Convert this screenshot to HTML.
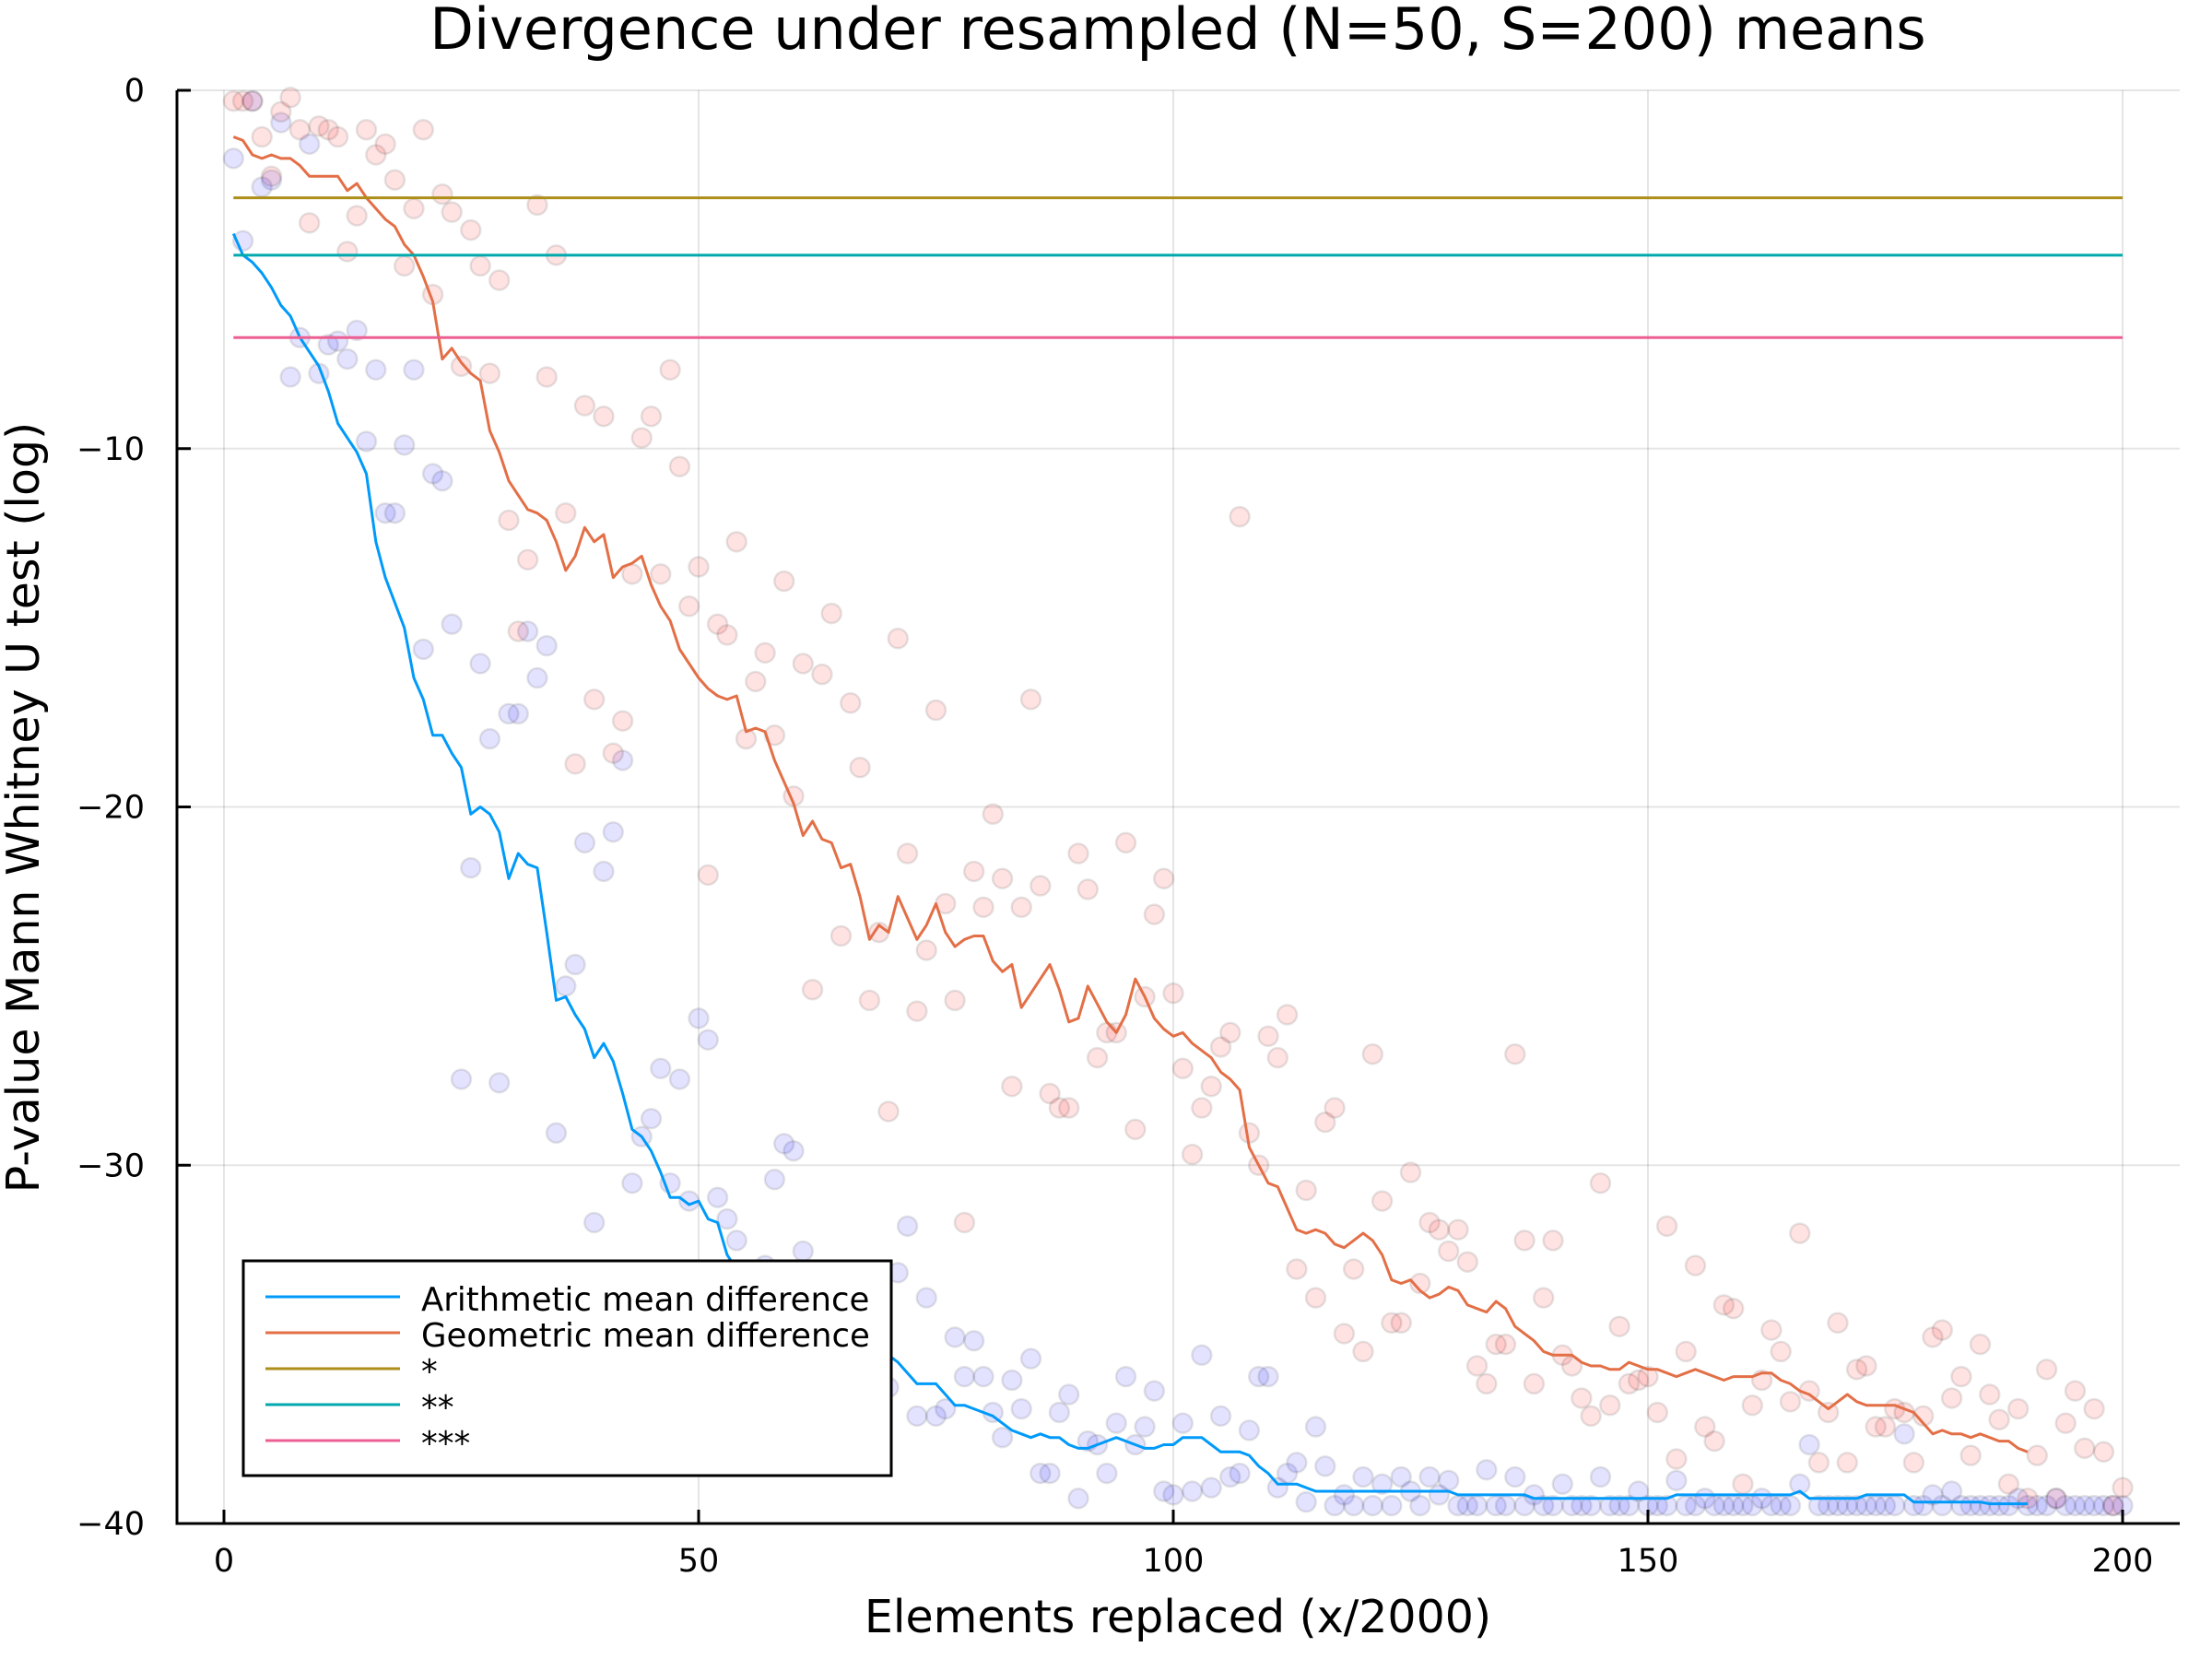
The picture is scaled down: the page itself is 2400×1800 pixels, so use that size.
<!DOCTYPE html>
<html><head><meta charset="utf-8"><style>
html,body{margin:0;padding:0;background:#fff;}
svg{display:block;font-family:"DejaVu Sans","Liberation Sans",sans-serif;}
</style></head><body>
<svg id="chart" width="2400" height="1800" viewBox="0 0 2400 1800" xmlns="http://www.w3.org/2000/svg">
<rect width="2400" height="1800" fill="#fff"/>
<text x="1278" y="53" font-size="62" text-anchor="middle">Divergence under resampled (N=50, S=200) means</text>
<text x="1278" y="1771" font-size="49" text-anchor="middle">Elements replaced (x/2000)</text>
<text transform="translate(42,876) rotate(-90)" font-size="49" text-anchor="middle">P-value Mann Whitney U test (log)</text>
<g id="grid"></g>
<g id="marks"></g>
<g id="axes"></g>
<g id="legend"></g>
</svg>
<script>
const xTicks = [0, 50, 100, 150, 200];
const yTicks = [0, -10, -20, -30, -40];
const yTickLabels = ["0", "\u221210", "\u221220", "\u221230", "\u221240"];
const thresholds = [-3.0, -4.6, -6.9];
const thresholdNames = ["*", "**", "***"];
const arithPoints = [-1.9,-4.2,-0.3,-2.7,-2.5,-0.9,-8.0,-6.9,-1.5,-7.9,-7.1,-7.0,-7.5,-6.7,-9.8,-7.8,-11.8,-11.8,-9.9,-7.8,
-15.6,-10.7,-10.9,-14.9,-27.6,-21.7,-16.0,-18.1,-27.7,-17.4,-17.4,-15.1,-16.4,-15.5,-29.1,-25.0,-24.4,-21.0,-31.6,-21.8,
-20.7,-18.7,-30.5,-29.2,-28.7,-27.3,-30.5,-27.6,-31.0,-25.9,-26.5,-30.9,-31.5,-32.1,-33.0,-33.5,-32.8,-30.4,-29.4,-29.6,
-32.4,-34.0,-33.5,-35.0,-34.2,-35.5,-36.0,-34.8,-35.3,-36.2,-33.0,-31.7,-37.0,-33.7,-37.0,-36.8,-34.8,-35.9,-34.9,-35.9,
-36.9,-37.6,-36.0,-36.8,-35.4,-38.6,-38.6,-36.9,-36.4,-39.3,-37.7,-37.8,-38.6,-37.2,-35.9,-37.8,-37.3,-36.3,-39.1,-39.2,
-37.2,-39.1,-35.3,-39.0,-37.0,-38.7,-38.6,-37.4,-35.9,-35.9,-39.0,-38.6,-38.3,-39.4,-37.3,-38.4,-39.5,-39.2,-39.5,-38.7,
-39.5,-38.9,-39.5,-38.7,-39.1,-39.5,-38.7,-39.2,-38.8,-39.5,-39.5,-39.5,-38.5,-39.5,-39.5,-38.7,-39.5,-39.2,-39.5,-39.5,
-38.9,-39.5,-39.5,-39.5,-38.7,-39.5,-39.5,-39.5,-39.1,-39.5,-39.5,-39.5,-38.8,-39.5,-39.5,-39.3,-39.5,-39.5,-39.5,-39.5,
-39.5,-39.3,-39.5,-39.5,-39.5,-38.9,-37.8,-39.5,-39.5,-39.5,-39.5,-39.5,-39.5,-39.5,-39.5,-39.5,-37.5,-39.5,-39.5,-39.2,
-39.5,-39.1,-39.5,-39.5,-39.5,-39.5,-39.5,-39.5,-39.3,-39.5,-39.5,-39.5,-39.3,-39.5,-39.5,-39.5,-39.5,-39.5,-39.5,-39.5];
const geomPoints = [-0.3,-0.3,-0.3,-1.3,-2.4,-0.6,-0.2,-1.1,-3.7,-1.0,-1.1,-1.3,-4.5,-3.5,-1.1,-1.8,-1.5,-2.5,-4.9,-3.3,
-1.1,-5.7,-2.9,-3.4,-7.7,-3.9,-4.9,-7.9,-5.3,-12.0,-15.1,-13.1,-3.2,-8.0,-4.6,-11.8,-18.8,-8.8,-17.0,-9.1,
-18.5,-17.6,-13.5,-9.7,-9.1,-13.5,-7.8,-10.5,-14.4,-13.3,-21.9,-14.9,-15.2,-12.6,-18.1,-16.5,-15.7,-18.0,-13.7,-19.7,
-16.0,-25.1,-16.3,-14.6,-23.6,-17.1,-18.9,-25.4,-23.5,-28.5,-15.3,-21.3,-25.7,-24.0,-17.3,-22.7,-25.4,-31.6,-21.8,-22.8,
-20.2,-22.0,-27.8,-22.8,-17.0,-22.2,-28.0,-28.4,-28.4,-21.3,-22.3,-27.0,-26.3,-26.3,-21.0,-29.0,-25.3,-23.0,-22.0,-25.2,
-27.3,-29.7,-28.4,-27.8,-26.7,-26.3,-11.9,-29.1,-30.0,-26.4,-27.0,-25.8,-32.9,-30.7,-33.7,-28.8,-28.4,-34.7,-32.9,-35.2,
-26.9,-31.0,-34.4,-34.4,-30.2,-33.3,-31.6,-31.8,-32.4,-31.8,-32.7,-35.6,-36.1,-35.0,-35.0,-26.9,-32.1,-36.1,-33.7,-32.1,
-35.3,-35.6,-36.5,-37.0,-30.5,-36.7,-34.5,-36.1,-36.0,-35.9,-36.9,-31.7,-38.2,-35.2,-32.8,-37.3,-37.7,-33.9,-34.0,-38.9,
-36.7,-36.0,-34.6,-35.2,-36.6,-31.9,-36.3,-38.3,-36.9,-34.4,-38.3,-35.7,-35.6,-37.3,-37.3,-36.8,-36.9,-38.3,-37.0,-34.8,
-34.6,-36.5,-35.9,-38.1,-35.0,-36.4,-37.1,-38.9,-36.8,-39.3,-38.1,-35.7,-39.3,-37.2,-36.3,-37.9,-36.8,-38.0,-39.5,-39.0];
const arithLine = [-4.0,-4.6,-4.8,-5.1,-5.5,-6.0,-6.3,-6.9,-7.3,-7.7,-8.4,-9.3,-9.7,-10.1,-10.7,-12.6,-13.6,-14.3,-15.0,-16.4,
-17.0,-18.0,-18.0,-18.5,-18.9,-20.2,-20.0,-20.2,-20.7,-22.0,-21.3,-21.6,-21.7,-23.5,-25.4,-25.3,-25.8,-26.2,-27.0,-26.6,
-27.1,-28.0,-29.0,-29.2,-29.6,-30.2,-30.9,-30.9,-31.1,-31.0,-31.5,-31.6,-32.5,-32.9,-33.2,-33.4,-33.6,-33.8,-34.0,-34.1,
-34.3,-34.4,-34.5,-34.7,-34.8,-34.9,-35.0,-35.1,-35.2,-35.3,-35.5,-35.8,-36.1,-36.1,-36.1,-36.4,-36.7,-36.7,-36.8,-36.9,
-37.0,-37.2,-37.4,-37.5,-37.6,-37.5,-37.6,-37.6,-37.8,-37.9,-37.9,-37.8,-37.7,-37.6,-37.7,-37.8,-37.9,-37.9,-37.8,-37.8,
-37.6,-37.6,-37.6,-37.8,-38.0,-38.0,-38.0,-38.1,-38.4,-38.6,-38.9,-38.9,-38.9,-39.0,-39.1,-39.1,-39.1,-39.1,-39.1,-39.1,
-39.1,-39.1,-39.1,-39.1,-39.1,-39.1,-39.1,-39.1,-39.1,-39.2,-39.2,-39.2,-39.2,-39.2,-39.2,-39.2,-39.2,-39.3,-39.3,-39.3,
-39.3,-39.3,-39.3,-39.3,-39.3,-39.3,-39.3,-39.3,-39.3,-39.3,-39.3,-39.3,-39.2,-39.2,-39.2,-39.2,-39.2,-39.2,-39.2,-39.2,
-39.2,-39.2,-39.2,-39.2,-39.2,-39.1,-39.3,-39.3,-39.3,-39.3,-39.3,-39.3,-39.2,-39.2,-39.2,-39.2,-39.2,-39.4,-39.4,-39.4,
-39.4,-39.4,-39.4,-39.4,-39.4,-39.45,-39.45,-39.45,-39.45,-39.45];
const geomLine = [-1.3,-1.4,-1.8,-1.9,-1.8,-1.9,-1.9,-2.1,-2.4,-2.4,-2.4,-2.4,-2.8,-2.6,-3.0,-3.3,-3.6,-3.8,-4.3,-4.6,
-5.2,-5.9,-7.5,-7.2,-7.6,-7.9,-8.1,-9.5,-10.1,-10.9,-11.3,-11.7,-11.8,-12.0,-12.6,-13.4,-13.0,-12.2,-12.6,-12.4,
-13.6,-13.3,-13.2,-13.0,-13.8,-14.4,-14.8,-15.6,-16.0,-16.4,-16.7,-16.9,-17.0,-16.9,-17.9,-17.8,-17.9,-18.7,-19.3,-19.9,
-20.8,-20.4,-20.9,-21.0,-21.7,-21.6,-22.5,-23.7,-23.3,-23.5,-22.5,-23.1,-23.7,-23.3,-22.7,-23.5,-23.9,-23.7,-23.6,-23.6,
-24.3,-24.6,-24.4,-25.6,-25.2,-24.8,-24.4,-25.1,-26.0,-25.9,-25.0,-25.5,-26.0,-26.3,-25.8,-24.8,-25.3,-25.9,-26.2,-26.4,
-26.3,-26.6,-26.8,-27.0,-27.4,-27.6,-27.9,-29.5,-30.0,-30.5,-30.6,-31.2,-31.8,-31.9,-31.8,-31.9,-32.2,-32.3,-32.1,-31.9,
-32.1,-32.5,-33.2,-33.3,-33.2,-33.5,-33.7,-33.6,-33.4,-33.5,-33.9,-34.0,-34.1,-33.8,-34.0,-34.5,-34.7,-34.9,-35.2,-35.3,
-35.3,-35.3,-35.5,-35.6,-35.6,-35.7,-35.7,-35.5,-35.6,-35.7,-35.7,-35.8,-35.9,-35.8,-35.7,-35.8,-35.9,-36.0,-35.9,-35.9,
-35.9,-35.8,-35.8,-36.0,-36.1,-36.3,-36.4,-36.6,-36.8,-36.6,-36.4,-36.6,-36.7,-36.7,-36.7,-36.7,-36.8,-36.9,-37.2,-37.5,
-37.4,-37.5,-37.5,-37.6,-37.5,-37.6,-37.7,-37.7,-37.9,-38.0];

const NS = "http://www.w3.org/2000/svg";
const PL = 192, PR = 2365, PT = 98, PB = 1653;
const X0 = 243, XS = (2303 - 243) / 200;
const sx = v => X0 + v * XS;
const sy = v => PT + (0 - v) * (PB - PT) / 40;
function mk(tag, attrs, parent) {
  const e = document.createElementNS(NS, tag);
  for (const k in attrs) e.setAttribute(k, attrs[k]);
  parent.appendChild(e);
  return e;
}
const grid = document.getElementById('grid');
const marks = document.getElementById('marks');
const axes = document.getElementById('axes');
const legend = document.getElementById('legend');

xTicks.forEach(t => {
  const g = mk('line', {x1: sx(t), x2: sx(t), y1: PT, y2: PB, stroke: 'rgba(0,0,0,0.1)', 'stroke-width': 2}, grid);
  
  
});
yTicks.forEach(t => {
  const g = mk('line', {x1: PL, x2: PR, y1: sy(t), y2: sy(t), stroke: 'rgba(0,0,0,0.1)', 'stroke-width': 2}, grid);
  
  
});

function scatter(vals, fill, name) {
  vals.forEach((v, i) => {
    const c = mk('circle', {cx: sx(i + 1), cy: sy(v), r: 10.5, fill: fill, stroke: 'rgba(0,0,0,0.1)', 'stroke-width': 2.5}, marks);
    
    
  });
}
scatter(arithPoints, 'rgba(0,0,255,0.11)', 'arithmetic-point');
scatter(geomPoints, 'rgba(255,0,0,0.11)', 'geometric-point');

function line(vals, color, name) {
  const d = vals.map((v, i) => (i ? 'L' : 'M') + sx(i + 1).toFixed(1) + ' ' + sy(v).toFixed(1)).join(' ');
  const p = mk('path', {d: d, fill: 'none', stroke: color, 'stroke-width': 3, 'stroke-linejoin': 'round'}, marks);
  
  
}
line(arithLine, '#009AFA', 'arithmetic-mean-line');
line(geomLine, '#E36F47', 'geometric-mean-line');
const thrColors = ['#AC8E18', '#00A9AD', '#ED5E93'];
thresholds.forEach((t, i) => {
  const l = mk('line', {x1: sx(1), x2: sx(200), y1: sy(t), y2: sy(t), stroke: thrColors[i], 'stroke-width': 3}, marks);
  
  
});

const ya = mk('line', {x1: PL, x2: PL, y1: PT, y2: PB + 1.5, stroke: '#000', 'stroke-width': 3}, axes);


const xa = mk('line', {x1: PL - 1.5, x2: PR, y1: PB, y2: PB, stroke: '#000', 'stroke-width': 3}, axes);


xTicks.forEach(t => {
  const tk = mk('line', {x1: sx(t), x2: sx(t), y1: PB, y2: PB - 15, stroke: '#000', 'stroke-width': 3}, axes);
  
  
  const tx = mk('text', {x: sx(t), y: 1705, 'font-size': 35, 'text-anchor': 'middle'}, axes);
  tx.textContent = String(t);
  
  
});
yTicks.forEach((t, i) => {
  const tk = mk('line', {x1: PL, x2: PL + 15, y1: sy(t), y2: sy(t), stroke: '#000', 'stroke-width': 3}, axes);
  
  
  const tx = mk('text', {x: 157, y: sy(t) + 12, 'font-size': 35, 'text-anchor': 'end'}, axes);
  tx.textContent = yTickLabels[i];
  
  
});

const box = mk('rect', {x: 264, y: 1368, width: 703, height: 233, fill: '#fff', stroke: '#000', 'stroke-width': 3}, legend);


const legNames = ['Arithmetic mean difference', 'Geometric mean difference'].concat(thresholdNames);
const legColors = ['#009AFA', '#E36F47'].concat(thrColors);
legNames.forEach((n, i) => {
  const y = 1407 + i * 39;
  const l = mk('line', {x1: 288, x2: 434, y1: y, y2: y, stroke: legColors[i], 'stroke-width': 3}, legend);
  
  
  const t = mk('text', {x: 457, y: y + 15, 'font-size': 35.5}, legend);
  t.textContent = n;
  
  
});
</script>
</body></html>
